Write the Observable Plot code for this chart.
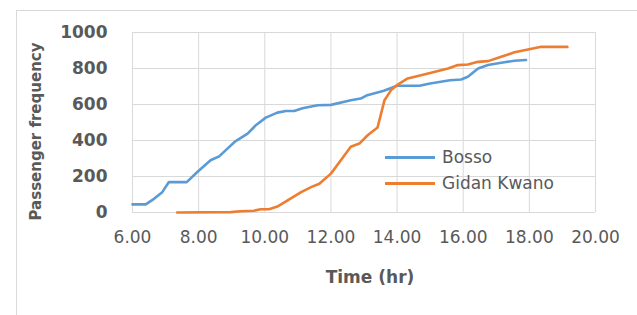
<!DOCTYPE html>
<html>
<head>
<meta charset="utf-8">
<script src="https://cdn.jsdelivr.net/npm/d3@7"></script>
<script src="https://cdn.jsdelivr.net/npm/@observablehq/plot@0.6"></script>
<style>
  html, body { margin: 0; padding: 0; background: #fff; overflow: hidden; }
  #wrap { position: relative; width: 637px; height: 315px; overflow: hidden; }
  #box { position: absolute; left: 16px; top: 10px; width: 700px; height: 400px; border: 1px solid #d9d9d9; box-sizing: border-box; }
  #chart { position: absolute; left: 0; top: 0; }
  .leg { position: absolute; left: 385px; font-family: "DejaVu Sans", sans-serif; font-size: 17px; color: #595959; display: flex; align-items: center; white-space: nowrap; }
  .sw { width: 50px; height: 3px; margin-right: 7px; }
</style>
</head>
<body>
<div id="wrap">
  <div id="box"></div>
  <div id="chart"></div>
  <div id="legend"></div>
</div>
<script>
// Bosso series
const bossoTime = [6.0, 6.4, 6.65, 6.9, 7.1, 7.64, 7.96, 8.36, 8.62, 8.87, 9.12, 9.48, 9.73, 10.03, 10.38, 10.64, 10.89, 11.14, 11.6, 12.0, 12.6, 12.9, 13.1, 13.6, 14.0, 14.68, 15.0, 15.6, 15.94, 16.14, 16.45, 16.75, 17.15, 17.55, 17.9];
const bossoCount = [45, 45, 76, 113, 169, 169, 225, 290, 312, 355, 397, 438, 485, 527, 555, 564, 564, 579, 596, 598, 624, 633, 652, 676, 704, 704, 717, 735, 739, 754, 800, 819, 832, 843, 847];
// Gidan Kwano series
const gidanTime = [7.35, 8.97, 9.27, 9.67, 9.88, 10.13, 10.38, 10.69, 11.1, 11.4, 11.65, 12.0, 12.3, 12.6, 12.86, 13.11, 13.41, 13.62, 13.82, 14.02, 14.32, 14.63, 15.03, 15.54, 15.84, 16.14, 16.45, 16.75, 17.15, 17.55, 17.96, 18.36, 19.15];
const gidanCount = [0, 2, 7, 10, 18, 18, 33, 67, 113, 141, 160, 216, 290, 365, 383, 429, 472, 624, 680, 711, 745, 758, 776, 800, 819, 822, 837, 841, 865, 890, 906, 921, 920];
// Axes
const xTicks = [6, 8, 10, 12, 14, 16, 18, 20];
const yTicks = [0, 200, 400, 600, 800, 1000];
const seriesNames = ["Bosso", "Gidan Kwano"];
const seriesColors = ["#5B9BD5", "#ED7D31"];
const xLabel = "Time (hr)";
const yLabel = "Passenger frequency";

const bosso = bossoTime.map((t, i) => ({t, v: bossoCount[i]}));
const gidan = gidanTime.map((t, i) => ({t, v: gidanCount[i]}));

const plot = Plot.plot({
  width: 637,
  height: 315,
  marginLeft: 132,
  marginRight: 42,
  marginTop: 32,
  marginBottom: 103,
  style: {background: "transparent", fontFamily: "DejaVu Sans, sans-serif", color: "#595959"},
  x: {domain: [6, 20], ticks: xTicks},
  y: {domain: [0, 1000], ticks: yTicks},
  marks: [
    Plot.gridX(xTicks, {stroke: "#d9d9d9", strokeOpacity: 1}),
    Plot.gridY(yTicks, {stroke: "#d9d9d9", strokeOpacity: 1}),
    Plot.axisX(xTicks, {tickSize: 0, tickPadding: 18, tickFormat: d => d.toFixed(2), fontSize: 17, label: null, fill: "#595959"}),
    Plot.axisY(yTicks, {tickSize: 0, tickPadding: 25, tickFormat: d => String(d), fontSize: 17, fontWeight: "bold", label: null, fill: "#595959"}),
    Plot.line(bosso, {x: "t", y: "v", stroke: seriesColors[0], strokeWidth: 2.6}),
    Plot.line(gidan, {x: "t", y: "v", stroke: seriesColors[1], strokeWidth: 2.6}),
    Plot.text([xLabel], {text: d => d, frameAnchor: "bottom", dx: 6, dy: 70, fontSize: 17, fontWeight: "bold", fill: "#595959"}),
    Plot.text([yLabel], {text: d => d, frameAnchor: "left", textAnchor: "middle", rotate: -90, dx: -96, dy: 9, fontSize: 15, fontWeight: "bold", fill: "#595959"})
  ]
});
document.getElementById("chart").appendChild(plot);

const legend = document.getElementById("legend");
const legendY = [157, 183];
seriesNames.forEach((name, i) => {
  const row = document.createElement("div");
  row.className = "leg";
  row.style.top = (legendY[i] - 11) + "px";
  row.style.height = "22px";
  row.innerHTML = `<span class="sw" style="background:${seriesColors[i]}"></span><span>${name}</span>`;
  legend.appendChild(row);
});
</script>
</body>
</html>
